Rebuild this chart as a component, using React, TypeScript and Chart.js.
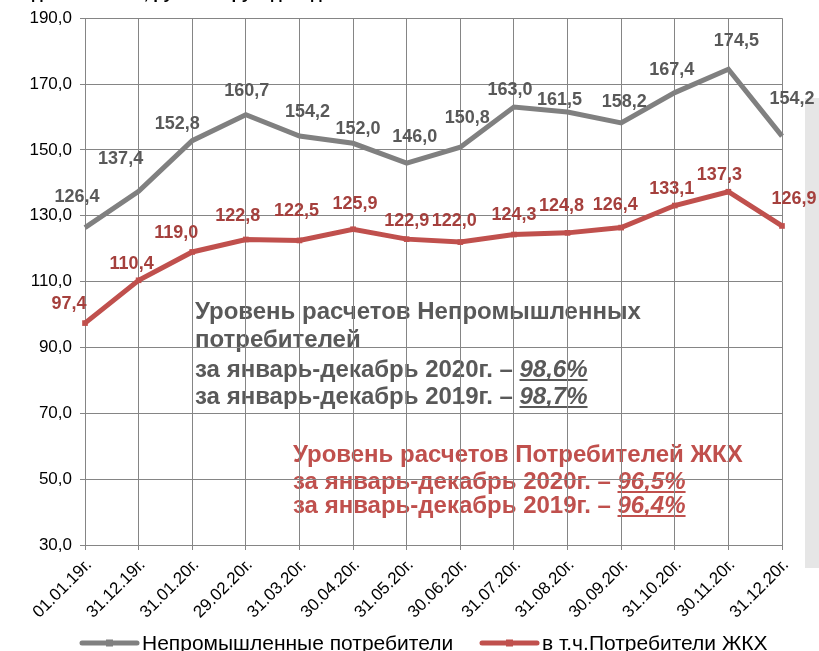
import React, { useEffect, useRef } from "react";
import { Chart, registerables } from "chart.js";

Chart.register(...registerables);

const CATEGORIES = [
  "01.01.19г.", "31.12.19г.", "31.01.20г.", "29.02.20г.", "31.03.20г.", "30.04.20г.", "31.05.20г.",
  "30.06.20г.", "31.07.20г.", "31.08.20г.", "30.09.20г.", "31.10.20г.", "30.11.20г.", "31.12.20г.",
];
const SERIES_NAMES = ["Непромышленные потребители", "в т.ч.Потребители ЖКХ"];
const GRAY_VALUES = [126.4, 137.4, 152.8, 160.7, 154.2, 152.0, 146.0, 150.8, 163.0, 161.5, 158.2, 167.4, 174.5, 154.2];
const RED_VALUES = [97.4, 110.4, 119.0, 122.8, 122.5, 125.9, 122.9, 122.0, 124.3, 124.8, 126.4, 133.1, 137.3, 126.9];
const Y_MIN = 30;
const Y_MAX = 190;
const Y_STEP = 20;

// label placement offsets (dx, dy) relative to each point, as in the reference
const GRAY_LABEL_OFFSETS = [
  [-8, -31], [-18, -32], [-15, -17], [1, -24], [8, -24], [5, -14], [8, -26],
  [7, -29], [-4, -17], [-8, -12], [3, -21], [-3, -23], [8, -28], [10, -37],
];
const RED_LABEL_OFFSETS = [
  [-16, -19], [-7, -16], [-16, -19], [-8, -23], [-3, -29], [2, -25], [0, -18],
  [-6, -21], [0, -19], [-6, -27], [-6, -23], [-3, -17], [-9, -17], [12, -27],
];

const GRAY_NOTE = {
  lines: ["Уровень расчетов Непромышленных", "потребителей", "за январь-декабрь 2020г. – ", "за январь-декабрь 2019г. – "],
  pct: [null, null, "98,6%", "98,7%"],
};
const RED_NOTE = {
  lines: ["Уровень расчетов Потребителей ЖКХ", "за январь-декабрь 2020г. – ", "за январь-декабрь 2019г. – "],
  pct: [null, "96,5%", "96,4%"],
};

const fmt = (v: number) => v.toFixed(1).replace(".", ",");

const GRAY = "#808080";
const GRAY_TEXT = "#595959";
const RED = "#C0504D";
const RED_TEXT = "#A5403D";
const GRID = "#858585";
const FONT = "Arial, 'Liberation Sans', sans-serif";

function drawNote(ctx: CanvasRenderingContext2D, note: { lines: string[]; pct: (string | null)[] }, x: number, ys: number[], color: string) {
  ctx.save();
  ctx.fillStyle = color;
  ctx.strokeStyle = color;
  ctx.textAlign = "left";
  ctx.textBaseline = "middle";
  note.lines.forEach((line, i) => {
    ctx.font = `bold 24px ${FONT}`;
    ctx.fillText(line, x, ys[i]);
    const p = note.pct[i];
    if (p) {
      const w = ctx.measureText(line).width;
      ctx.font = `italic bold 24px ${FONT}`;
      ctx.fillText(p, x + w, ys[i]);
      const pw = ctx.measureText(p).width;
      ctx.lineWidth = 2;
      ctx.beginPath();
      ctx.moveTo(x + w, ys[i] + 10);
      ctx.lineTo(x + w + pw, ys[i] + 10);
      ctx.stroke();
    }
  });
  ctx.restore();
}

const decorPlugin = {
  id: "decor",
  beforeDraw(chart: any) {
    const ctx = chart.ctx as CanvasRenderingContext2D;
    // cut-off title at the very top
    ctx.save();
    ctx.fillStyle = "#000";
    ctx.font = `bold 17px ${FONT}`;
    ctx.textBaseline = "alphabetic";
    ctx.fillText("Задолженность, руб. на 1 руб. дохода", 12, -1);
    ctx.restore();
    drawNote(ctx, GRAY_NOTE, 195, [312, 340, 370, 397], GRAY_TEXT);
    drawNote(ctx, RED_NOTE, 293, [455, 482, 506], RED);
    // light panel on the right edge
    ctx.save();
    ctx.fillStyle = "#e6e6e6";
    ctx.fillRect(805, 98, 14, 470);
    ctx.restore();
  },
  afterDatasetsDraw(chart: any) {
    const ctx = chart.ctx as CanvasRenderingContext2D;
    const sets = [
      { idx: 0, offs: GRAY_LABEL_OFFSETS, color: GRAY_TEXT },
      { idx: 1, offs: RED_LABEL_OFFSETS, color: RED_TEXT },
    ];
    ctx.save();
    ctx.font = `bold 18px ${FONT}`;
    ctx.textAlign = "center";
    ctx.textBaseline = "middle";
    sets.forEach((s) => {
      const meta = chart.getDatasetMeta(s.idx);
      const data = chart.data.datasets[s.idx].data as number[];
      meta.data.forEach((pt: any, i: number) => {
        ctx.fillStyle = s.color;
        ctx.fillText(fmt(data[i]), pt.x + s.offs[i][0], pt.y + s.offs[i][1]);
      });
    });
    ctx.restore();
  },
  afterDraw(chart: any) {
    const ctx = chart.ctx as CanvasRenderingContext2D;
    const items = [
      { x: 82, color: GRAY, text: SERIES_NAMES[0] },
      { x: 482, color: RED, text: SERIES_NAMES[1] },
    ];
    const y = 643;
    ctx.save();
    items.forEach((it) => {
      ctx.strokeStyle = it.color;
      ctx.lineWidth = 5;
      ctx.lineCap = "round";
      ctx.beginPath();
      ctx.moveTo(it.x, y);
      ctx.lineTo(it.x + 55, y);
      ctx.stroke();
      ctx.fillStyle = it.color;
      ctx.fillRect(it.x + 24, y - 3.5, 7, 7);
      ctx.fillStyle = "#000";
      ctx.font = `21px ${FONT}`;
      ctx.textAlign = "left";
      ctx.textBaseline = "middle";
      ctx.fillText(it.text, it.x + 60, y + 1);
    });
    ctx.restore();
  },
};

export default function App() {
  const ref = useRef<HTMLCanvasElement | null>(null);
  useEffect(() => {
    if (!ref.current) return;
    const chart = new Chart(ref.current, {
      type: "line",
      data: {
        labels: CATEGORIES,
        datasets: [
          {
            label: SERIES_NAMES[0],
            data: GRAY_VALUES,
            borderColor: GRAY,
            backgroundColor: GRAY,
            borderWidth: 5,
            pointRadius: 0,
            tension: 0,
            clip: false as any,
          },
          {
            label: SERIES_NAMES[1],
            data: RED_VALUES,
            borderColor: RED,
            backgroundColor: RED,
            borderWidth: 5,
            pointStyle: "rect",
            pointRadius: 4,
            pointBorderWidth: 0,
            pointBackgroundColor: RED,
            tension: 0,
            clip: false as any,
          },
        ],
      },
      options: {
        responsive: false,
        animation: false,
        devicePixelRatio: 1,
        layout: { padding: { top: 16, right: 37, left: 0, bottom: 0 } },
        plugins: { legend: { display: false }, tooltip: { enabled: false }, title: { display: false } },
        scales: {
          x: {
            type: "category",
            offset: false,
            grid: { color: GRID, lineWidth: 1, tickLength: 5, drawTicks: true },
            border: { color: GRID, width: 1 },
            ticks: {
              autoSkip: false,
              maxRotation: 45,
              minRotation: 45,
              color: "#000",
              padding: 5,
              labelOffset: 4,
              font: { size: 17, family: FONT },
            },
            afterFit: (s: any) => { s.height = 106; },
          },
          y: {
            min: Y_MIN,
            max: Y_MAX,
            grid: { color: GRID, lineWidth: 1, tickLength: 5 },
            border: { color: GRID, width: 1 },
            ticks: {
              stepSize: Y_STEP,
              color: "#000",
              padding: 8,
              font: { size: 17, family: FONT },
              callback: (v: any) => fmt(Number(v)),
            },
            afterFit: (s: any) => { s.width = 85; },
          },
        },
      },
      plugins: [decorPlugin],
    });
    return () => chart.destroy();
  }, []);
  return (
    <div style={{ position: "absolute", left: 0, top: 0, width: 819, height: 651, background: "#fff" }}>
      <canvas ref={ref} width={819} height={651} />
    </div>
  );
}
